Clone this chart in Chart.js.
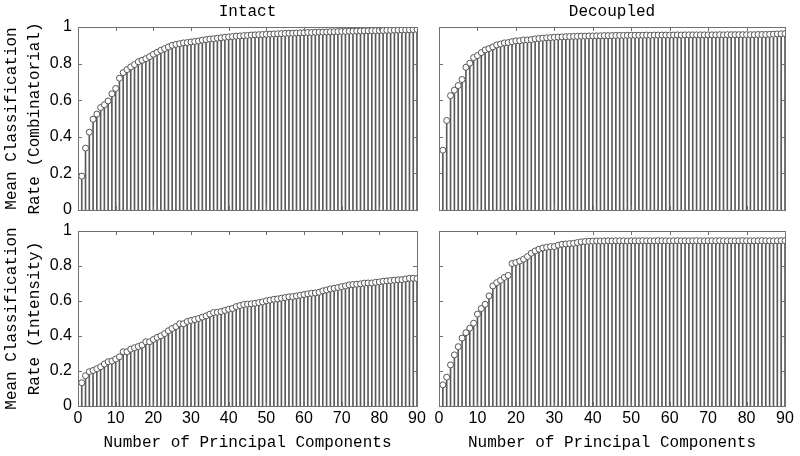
<!DOCTYPE html>
<html>
<head>
<meta charset="utf-8">
<script src="https://cdn.jsdelivr.net/npm/chart.js@4.4.0/dist/chart.umd.min.js"></script>
<style>
  html, body { margin: 0; padding: 0; background: #fff; }
  #wrap { position: relative; width: 800px; height: 456px; overflow: hidden; }
  #wrap canvas { position: absolute; left: 0; top: 0; }
</style>
</head>
<body>
<div id="wrap">
  <canvas id="cIntactComb" width="800" height="456"></canvas>
  <canvas id="cDecoupledComb" width="800" height="456"></canvas>
  <canvas id="cIntactInt" width="800" height="456"></canvas>
  <canvas id="cDecoupledInt" width="800" height="456"></canvas>
</div>
<script>
/* ---- data ---- */
const components = Array.from({ length: 90 }, function (_, i) { return i + 1; });

const xTickValues = [0, 10, 20, 30, 40, 50, 60, 70, 80, 90];
const xTickLabels = ['0', '10', '20', '30', '40', '50', '60', '70', '80', '90'];
const yTickValues = [0, 0.2, 0.4, 0.6, 0.8, 1];
const yTickLabels = ['0', '0.2', '0.4', '0.6', '0.8', '1'];

// Intact, combinatorial
const intactComb = [
  0.185, 0.338, 0.425, 0.496, 0.524, 0.56, 0.575, 0.596, 0.635, 0.664,
  0.72, 0.751, 0.767, 0.782, 0.795, 0.81, 0.818, 0.827, 0.838, 0.851,
  0.862, 0.873, 0.882, 0.891, 0.9, 0.905, 0.909, 0.913, 0.915, 0.918,
  0.921, 0.924, 0.928, 0.931, 0.934, 0.936, 0.939, 0.941, 0.944, 0.946,
  0.948, 0.95, 0.951, 0.953, 0.954, 0.956, 0.957, 0.958, 0.959, 0.96,
  0.961, 0.962, 0.963, 0.964, 0.965, 0.966, 0.966, 0.967, 0.968, 0.969,
  0.97, 0.97, 0.971, 0.972, 0.972, 0.973, 0.974, 0.974, 0.975, 0.976,
  0.976, 0.977, 0.977, 0.978, 0.978, 0.979, 0.979, 0.98, 0.98, 0.981,
  0.981, 0.982, 0.982, 0.983, 0.983, 0.984, 0.984, 0.985, 0.986, 0.987
];
// Decoupled, combinatorial
const decoupledComb = [
  0.327, 0.489, 0.625, 0.655, 0.68, 0.713, 0.78, 0.802, 0.833, 0.844,
  0.86, 0.875, 0.882, 0.891, 0.902, 0.907, 0.913, 0.915, 0.92, 0.924,
  0.925, 0.929, 0.929, 0.931, 0.935, 0.937, 0.939, 0.941, 0.942, 0.944,
  0.945, 0.946, 0.947, 0.948, 0.949, 0.949, 0.95, 0.95, 0.951, 0.951,
  0.952, 0.952, 0.953, 0.953, 0.953, 0.954, 0.954, 0.954, 0.955, 0.955,
  0.955, 0.955, 0.955, 0.956, 0.955, 0.956, 0.956, 0.956, 0.956, 0.956,
  0.956, 0.957, 0.956, 0.957, 0.957, 0.957, 0.957, 0.957, 0.957, 0.957,
  0.957, 0.957, 0.958, 0.957, 0.958, 0.958, 0.958, 0.958, 0.958, 0.958,
  0.958, 0.958, 0.959, 0.959, 0.959, 0.96, 0.961, 0.962, 0.963, 0.964
];
// Intact, intensity
const intactInt = [
  0.133, 0.173, 0.196, 0.203, 0.213, 0.224, 0.24, 0.253, 0.257, 0.268,
  0.281, 0.31, 0.31, 0.325, 0.333, 0.34, 0.348, 0.367, 0.367, 0.38,
  0.392, 0.401, 0.414, 0.43, 0.443, 0.454, 0.47, 0.47, 0.483, 0.489,
  0.494, 0.5, 0.508, 0.515, 0.525, 0.534, 0.536, 0.54, 0.546, 0.553,
  0.557, 0.568, 0.574, 0.58, 0.582, 0.584, 0.587, 0.591, 0.595, 0.601,
  0.605, 0.61, 0.612, 0.616, 0.62, 0.624, 0.625, 0.629, 0.633, 0.637,
  0.641, 0.644, 0.646, 0.65, 0.658, 0.663, 0.669, 0.673, 0.677, 0.682,
  0.686, 0.692, 0.694, 0.696, 0.698, 0.702, 0.703, 0.703, 0.707, 0.709,
  0.713, 0.715, 0.717, 0.719, 0.721, 0.722, 0.726, 0.73, 0.73, 0.728
];
// Decoupled, intensity
const decoupledInt = [
  0.121, 0.165, 0.235, 0.292, 0.339, 0.388, 0.419, 0.445, 0.473, 0.525,
  0.557, 0.581, 0.629, 0.686, 0.705, 0.718, 0.735, 0.746, 0.814, 0.82,
  0.828, 0.839, 0.854, 0.873, 0.886, 0.896, 0.903, 0.907, 0.911, 0.911,
  0.919, 0.924, 0.926, 0.928, 0.93, 0.934, 0.938, 0.94, 0.941, 0.942,
  0.943, 0.943, 0.943, 0.944, 0.943, 0.944, 0.944, 0.944, 0.943, 0.944,
  0.944, 0.944, 0.945, 0.944, 0.944, 0.944, 0.945, 0.944, 0.944, 0.944,
  0.944, 0.945, 0.944, 0.944, 0.944, 0.944, 0.945, 0.944, 0.944, 0.944,
  0.944, 0.944, 0.945, 0.944, 0.944, 0.944, 0.944, 0.944, 0.945, 0.944,
  0.944, 0.944, 0.944, 0.945, 0.944, 0.944, 0.944, 0.944, 0.945, 0.945
];

/* ---- look ---- */
const W = 800, H = 456;
const MONO = "'Liberation Mono', 'DejaVu Sans Mono', monospace";
const SANS = "'Liberation Sans', Arial, sans-serif";
const STEM = '#5a5a5a';
const FRAME = '#707070';

// MATLAB-style box with inward ticks on all four sides
const boxTicks = {
  id: 'boxTicks',
  afterDatasetsDraw: function (chart) {
    const a = chart.chartArea, ctx = chart.ctx;
    const xs = chart.scales.x, ys = chart.scales.y;
    const len = 4;
    ctx.save();
    ctx.strokeStyle = FRAME;
    ctx.lineWidth = 1;
    ctx.strokeRect(Math.round(a.left) + 0.5, Math.round(a.top) + 0.5,
      Math.round(a.right - a.left), Math.round(a.bottom - a.top));
    ctx.beginPath();
    xTickValues.forEach(function (v) {
      const px = Math.round(xs.getPixelForValue(v)) + 0.5;
      ctx.moveTo(px, a.bottom); ctx.lineTo(px, a.bottom - len);
      ctx.moveTo(px, a.top); ctx.lineTo(px, a.top + len);
    });
    yTickValues.forEach(function (v) {
      const py = Math.round(ys.getPixelForValue(v)) + 0.5;
      ctx.moveTo(a.left, py); ctx.lineTo(a.left + len, py);
      ctx.moveTo(a.right, py); ctx.lineTo(a.right - len, py);
    });
    ctx.stroke();
    ctx.restore();
  }
};

function makePanel(id, values, area, opts) {
  const showY = !!opts.yTitle;
  const showX = !!opts.xTitle;
  const titleH = opts.title ? 27 : 0;
  const xAxisH = showX ? H - area.bottom : 0;
  const yAxisW = showY ? area.left : 0;
  const points = values.map(function (v, i) { return { x: components[i], y: v }; });

  return new Chart(document.getElementById(id), {
    type: 'bar',
    data: {
      datasets: [
        {
          type: 'line', data: points, showLine: false,
          pointRadius: 3, pointBorderWidth: 1,
          pointBorderColor: '#555555', pointBackgroundColor: '#ffffff',
          order: 0
        },
        {
          type: 'bar', data: points, barThickness: 1,
          backgroundColor: STEM, borderWidth: 0, order: 1
        }
      ]
    },
    options: {
      responsive: false, animation: false, devicePixelRatio: 1,
      layout: {
        padding: {
          left: area.left - yAxisW,
          right: W - area.right,
          top: area.top - titleH,
          bottom: H - area.bottom - xAxisH
        }
      },
      plugins: {
        legend: { display: false },
        tooltip: { enabled: false },
        title: {
          display: !!opts.title, text: opts.title || '', fullSize: false,
          color: '#000', font: { family: MONO, size: 16, weight: 'normal', lineHeight: 1.2 },
          padding: { top: 2, bottom: 5.8 }
        }
      },
      scales: {
        x: {
          type: 'linear', min: 0, max: 90, offset: false, display: showX,
          grid: { display: false, offset: false, drawTicks: false },
          border: { display: false },
          afterBuildTicks: function (s) { s.ticks = xTickValues.map(function (v) { return { value: v }; }); },
          afterFit: function (s) { s.height = xAxisH; },
          ticks: {
            color: '#000', padding: 3, maxRotation: 0, autoSkip: false,
            font: { family: SANS, size: 16 },
            callback: function (v, i) { return xTickLabels[i]; }
          },
          title: {
            display: showX, text: opts.xTitle || '', color: '#000',
            font: { family: MONO, size: 16, lineHeight: 1.2 },
            padding: { top: 0, bottom: 3.4 }
          }
        },
        y: {
          min: 0, max: 1, display: showY,
          grid: { display: false, drawTicks: false },
          border: { display: false },
          afterBuildTicks: function (s) { s.ticks = yTickValues.map(function (v) { return { value: v }; }); },
          afterFit: function (s) { s.width = yAxisW; },
          ticks: {
            color: '#000', padding: 6, autoSkip: false,
            font: { family: SANS, size: 16 },
            callback: function (v, i) { return yTickLabels[i]; }
          },
          title: {
            display: showY, text: opts.yTitle || '', color: '#000',
            font: { family: MONO, size: 16, lineHeight: 1.4 },
            padding: { top: 1, bottom: 0 }
          }
        }
      }
    },
    plugins: [boxTicks]
  });
}

makePanel('cIntactComb', intactComb,
  { left: 78, top: 27, right: 417, bottom: 210 },
  { title: 'Intact', yTitle: ['Mean Classification', 'Rate (Combinatorial)'] });
makePanel('cDecoupledComb', decoupledComb,
  { left: 439, top: 27, right: 785, bottom: 210 },
  { title: 'Decoupled' });
makePanel('cIntactInt', intactInt,
  { left: 78, top: 231, right: 417, bottom: 406 },
  { yTitle: ['Mean Classification', 'Rate (Intensity)'], xTitle: 'Number of Principal Components' });
makePanel('cDecoupledInt', decoupledInt,
  { left: 439, top: 231, right: 785, bottom: 406 },
  { xTitle: 'Number of Principal Components' });
</script>
</body>
</html>
